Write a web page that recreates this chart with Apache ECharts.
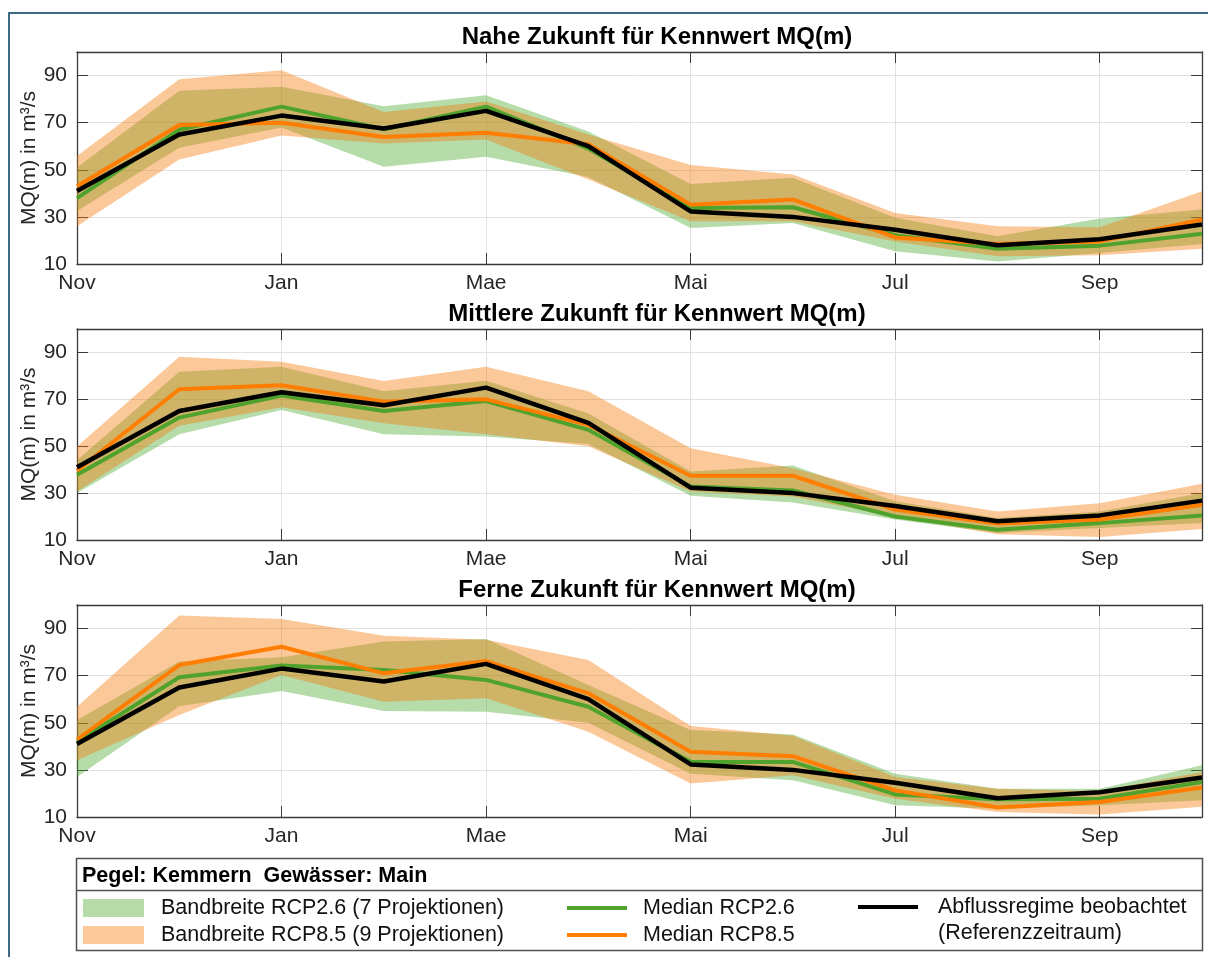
<!DOCTYPE html>
<html>
<head>
<meta charset="utf-8">
<script src="https://cdn.jsdelivr.net/npm/echarts@6/dist/echarts.min.js"></script>
<style>
html,body{margin:0;padding:0;background:#fff}
#chart{width:1208px;height:957px}
</style>
</head>
<body>
<div id="chart"></div>
<script>
// months Nov..Okt (hydrologisches Jahr)
const months = ["Nov","Dez","Jan","Feb","Mae","Apr","Mai","Jun","Jul","Aug","Sep","Okt"];
const titles = ["Nahe Zukunft für Kennwert MQ(m)", "Mittlere Zukunft für Kennwert MQ(m)", "Ferne Zukunft für Kennwert MQ(m)"];
const observed = [41, 65, 73, 67.5, 75, 60, 32.3, 30, 24.5, 18, 20.5, 26.8];

// Nahe Zukunft
const nahe26Lo  = [32.5, 59.4, 68, 51.3, 55.5, 46.9, 25.3, 27.4, 15.4, 11.1, 14.7, 18.5];
const nahe26Hi  = [51, 83.5, 85.2, 77, 81.6, 66.2, 44, 46.6, 29.6, 21.8, 29.3, 33.1];
const nahe85Lo  = [26, 54.4, 64.6, 61.2, 62.9, 45.9, 28.2, 28.2, 19.6, 13.3, 13.7, 16.5];
const nahe85Hi  = [55.8, 88.4, 92.3, 74.5, 79, 65, 52, 48, 31.7, 26, 25.6, 40.9];
const nahe26Med = [38, 67, 76.8, 67.2, 76.8, 59, 33.8, 34.1, 22.2, 16.5, 17.8, 22.8];
const nahe85Med = [43, 69, 70, 63.9, 65.7, 60.8, 35.2, 37.4, 21.3, 18.5, 19.6, 28.9];

// Mittlere Zukunft
const mitte26Lo  = [30, 55.1, 65.5, 55.1, 54.1, 51, 28.9, 26, 18.7, 13, 15.1, 17.2];
const mitte26Hi  = [44, 81.8, 83.9, 73.5, 77.9, 64, 39.2, 41.8, 26.5, 19.4, 22.2, 30];
const mitte85Lo  = [30.7, 58.7, 66.6, 59.8, 55.1, 50, 30.7, 28.6, 20, 12.5, 11.3, 14.7];
const mitte85Hi  = [49.9, 88.2, 86, 77.8, 83.9, 73.5, 49.1, 40.6, 29.3, 22.2, 25.7, 34];
const mitte26Med = [37.8, 62.2, 71.6, 65, 69.3, 57, 32.8, 31.1, 20, 14.4, 17.2, 20.4];
const mitte85Med = [39.6, 74.3, 76, 69, 70, 59.1, 37.4, 37.4, 23, 17, 18.7, 25];

// Ferne Zukunft
const ferne26Lo  = [27, 57, 63.5, 55, 54.7, 50, 28.4, 25.6, 15, 13.5, 15, 17.1];
const ferne26Hi  = [51.1, 76, 77.8, 84.5, 85.6, 66, 46.9, 45, 28.4, 22, 22, 32];
const ferne85Lo  = [34.1, 53.3, 70.3, 58.9, 60.4, 46.2, 24.2, 27.7, 17.8, 12.1, 11.1, 14.3];
const ferne85Hi  = [56.8, 95.5, 94.1, 86.9, 85.2, 76.7, 48.6, 44.5, 27, 22, 21, 29.1];
const ferne26Med = [41.9, 69.3, 74.3, 72.4, 68.2, 56.8, 33.4, 33.4, 19.6, 17.5, 17.8, 24.9];
const ferne85Med = [42.9, 74.5, 82.3, 71, 76.2, 62.5, 37.7, 35.8, 21.3, 14, 16.4, 22.5];

const panels = [
  {lo26:nahe26Lo, hi26:nahe26Hi, lo85:nahe85Lo, hi85:nahe85Hi, med26:nahe26Med, med85:nahe85Med},
  {lo26:mitte26Lo, hi26:mitte26Hi, lo85:mitte85Lo, hi85:mitte85Hi, med26:mitte26Med, med85:mitte85Med},
  {lo26:ferne26Lo, hi26:ferne26Hi, lo85:ferne85Lo, hi85:ferne85Hi, med26:ferne26Med, med85:ferne85Med}
];

const N_BAND26 = "Bandbreite RCP2.6 (7 Projektionen)";
const N_BAND85 = "Bandbreite RCP8.5 (9 Projektionen)";
const N_MED26 = "Median RCP2.6";
const N_MED85 = "Median RCP8.5";
const N_OBS = "Abflussregime beobachtet";

const FONT = '"Liberation Sans", Arial, sans-serif';
const AX = "#3a3a3a", TXT = "#262626", GRIDC = "#e2e2e2";
const GREEN = "#4fa22c", ORANGE = "#ff7d00";
const gridTops = [52, 329, 605], gridH = [212, 211, 212];
const LINE_ICON = "path://M0,0H60V4H0Z", RECT_ICON = "path://M0,0H61V18H0Z";

const grids = [], xAxes = [], yAxes = [], series = [];

panels.forEach((p, i) => {
  grids.push({left:77, right:6, top:gridTops[i], height:gridH[i], show:false});
  const tick = {show:true, inside:true, length:11, lineStyle:{color:AX, width:1}};
  const line = {show:true, onZero:false, lineStyle:{color:AX, width:1.3}};
  xAxes.push({gridIndex:i, type:"category", data:months, boundaryGap:false, axisLine:line,
    axisTick:{...tick, interval:1},
    axisLabel:{interval:1, fontSize:21, color:TXT, margin:9, fontFamily:FONT},
    splitLine:{show:true, interval:1, lineStyle:{color:GRIDC, width:1}}});
  xAxes.push({gridIndex:i, type:"category", data:months, boundaryGap:false, position:"top", axisLine:line,
    axisTick:{...tick, interval:1}, axisLabel:{show:false}, splitLine:{show:false}});
  yAxes.push({gridIndex:i, type:"value", min:10, max:100, interval:20, axisLine:line, axisTick:tick,
    axisLabel:{fontSize:21, color:TXT, margin:10, fontFamily:FONT, showMaxLabel:false},
    splitLine:{show:true, lineStyle:{color:GRIDC, width:1}},
    name:"MQ(m) in m³/s", nameLocation:"middle", nameGap:37, nameMoveOverlap:false,
    nameTextStyle:{fontSize:21, color:TXT, fontFamily:FONT}});
  yAxes.push({gridIndex:i, type:"value", min:10, max:100, interval:20, position:"right", axisLine:line,
    axisTick:tick, axisLabel:{show:false}, splitLine:{show:false}});

  const ax = {xAxisIndex:2*i, yAxisIndex:2*i};
  const band = (name, lo, hi, fill, stack) => [
    {...ax, type:"line", name:"_" + stack, stack, data:lo, symbol:"none", lineStyle:{width:0}, silent:true},
    {...ax, type:"line", name, stack, data:hi.map((v, k) => +(v - lo[k]).toFixed(2)), symbol:"none",
      lineStyle:{width:0}, areaStyle:{color:fill, opacity:1}, silent:true}
  ];
  series.push(...band(N_BAND26, p.lo26, p.hi26, "rgba(73,168,43,0.4)", "g" + i));
  series.push(...band(N_BAND85, p.lo85, p.hi85, "rgba(245,118,3,0.4)", "o" + i));
  series.push({...ax, type:"line", name:N_MED26, data:p.med26, symbol:"none", itemStyle:{color:GREEN}, lineStyle:{color:GREEN, width:4}});
  series.push({...ax, type:"line", name:N_MED85, data:p.med85, symbol:"none", itemStyle:{color:ORANGE}, lineStyle:{color:ORANGE, width:4}});
  series.push({...ax, type:"line", name:N_OBS, data:observed, symbol:"none", itemStyle:{color:"#000"}, lineStyle:{color:"#000", width:4.5}});
});

const legText = {fontSize:21.5, color:"#111", fontFamily:FONT};
const legBase = {orient:"vertical", itemWidth:61, itemHeight:22, itemGap:5, selectedMode:false, padding:0, symbolKeepAspect:true};

const titleGraphics = titles.map((t, i) => ({
  type:"text", x:657, y:gridTops[i] - 14.5,
  style:{text:t, font:'bold 24px ' + FONT, fill:"#000", align:"center", verticalAlign:"middle"}
}));

const chart = echarts.init(document.getElementById("chart"));
chart.setOption({
  backgroundColor:"#fff",
  animation:false,
  grid:grids, xAxis:xAxes, yAxis:yAxes, series,
  legend:[
    {...legBase, left:83, top:897, textStyle:{...legText, padding:[0,0,0,12]},
      data:[{name:N_BAND26, icon:RECT_ICON, itemStyle:{color:"#b7dcaa", borderWidth:0}},
            {name:N_BAND85, icon:RECT_ICON, itemStyle:{color:"#fbc89b", borderWidth:0}}]},
    {...legBase, left:567, top:897, itemWidth:60, textStyle:{...legText, padding:[0,0,0,11]},
      data:[{name:N_MED26, icon:LINE_ICON, itemStyle:{color:GREEN, borderWidth:0}},
            {name:N_MED85, icon:LINE_ICON, itemStyle:{color:ORANGE, borderWidth:0}}]},
    {...legBase, left:858, top:896, itemWidth:60, textStyle:{...legText, padding:[0,0,0,15]},
      data:[{name:N_OBS, icon:LINE_ICON, itemStyle:{color:"#000", borderWidth:0}}]}
  ],
  graphic:[
    {type:"rect", z:-10, shape:{x:9, y:13, width:1260, height:1000}, style:{fill:null, stroke:"#3e6b83", lineWidth:2}},
    ...titleGraphics,
    {type:"rect", shape:{x:76.5, y:858.5, width:1126, height:92}, style:{fill:null, stroke:"#505050", lineWidth:1.5}},
    {type:"line", shape:{x1:76.5, y1:890.5, x2:1202.5, y2:890.5}, style:{stroke:"#505050", lineWidth:1.5}},
    {type:"text", x:82, y:876, style:{text:"Pegel: Kemmern  Gewässer: Main", font:'bold 21.5px ' + FONT, fill:"#000", verticalAlign:"middle"}},
    {type:"text", x:938, y:933, style:{text:"(Referenzzeitraum)", font:'21.5px ' + FONT, fill:"#111", verticalAlign:"middle"}}
  ]
});
</script>
</body>
</html>
